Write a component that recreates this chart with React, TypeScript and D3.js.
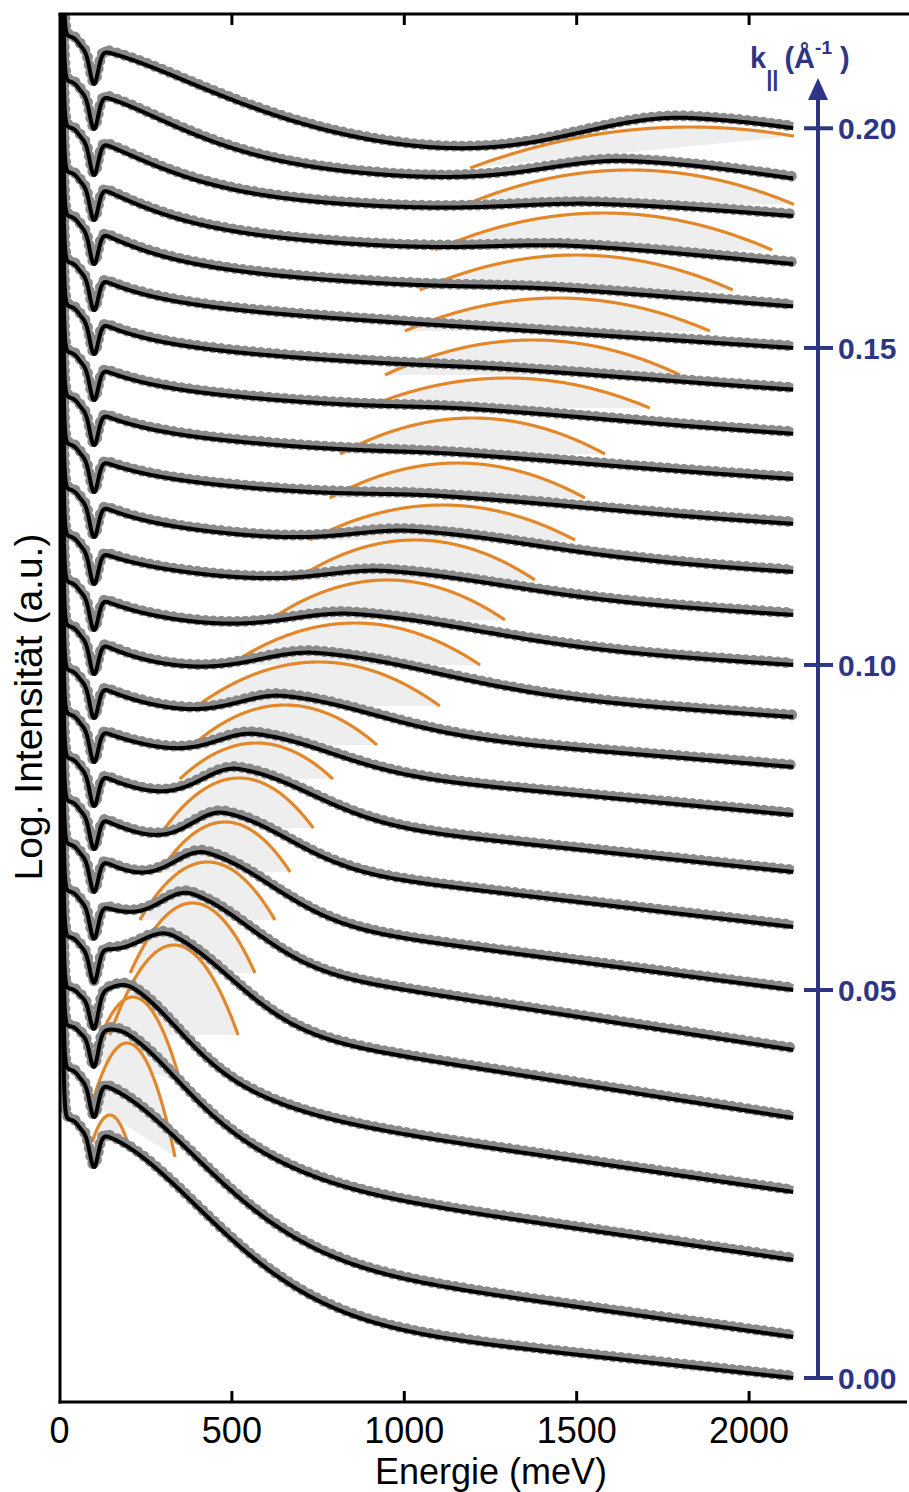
import React from 'react'
import * as d3 from 'd3'

const W = 909
const H = 1492

// spectra from k|| = 0 (bottom) to k|| = 0.20 (top)
const kValues = [0, 0.0083, 0.0167, 0.025, 0.0333, 0.0417, 0.05, 0.0583, 0.0667, 0.075, 0.0833, 0.0917, 0.1,
  0.107, 0.114, 0.121, 0.129, 0.136, 0.143, 0.15, 0.16, 0.17, 0.18, 0.19, 0.2]
// background (log intensity, a.u.) at 100 meV and at the end of the spectrum
const bgStart = [269, 319, 361, 399, 451, 497, 544, 587, 630, 674, 718, 762, 806, 852, 899, 944, 991, 1036, 1082, 1126, 1172, 1216, 1261, 1307, 1352]
const bgEnd = [24, 65, 142, 210, 284, 352, 412, 475, 530, 587, 635, 685, 737, 787, 830, 878, 923, 968, 1012, 1054, 1094, 1134, 1180, 1207, 1227]
// linear part of the background (a.u. per eV), width (meV) and shape of its fast decay
const bgSlope = [37, 48, 50, 50, 54, 53, 45, 40, 36, 32, 28, 24, 22, 22, 22, 22, 22, 22, 22, 22, 20, 18, 12, 15, 15]
const bgWidth = [460, 440, 410, 370, 330, 290, 250, 220, 200, 190, 180, 170, 170, 170, 170, 170, 170, 170, 170, 180, 220, 250, 300, 370, 550]
const bgShape = [1.8, 1.8, 1.7, 1.6, 1.5, 1.4, 1.2, 1, 1, 1, 1, 1, 1, 1, 1, 1, 1, 1, 1, 1, 1.1, 1.2, 1.3, 1.5, 1.5]
// plasmon: energy (meV), half width at the cut (meV), peak (a.u.), drop at the cut (a.u.)
const plasmonE = [null, 146, 196, 213, 332, 386, 429, 480, 521, 571, 654, 751, 857, 951, 1031, 1111, 1154, 1198, 1299, 1372, 1444, 1499, 1578, 1655, 1829]
const plasmonW = [null, 52, 139, 136, 186, 181, 196, 189, 215, 222, 267, 352, 363, 341, 348, 384, 370, 384, 413, 428, 442, 454, 489, 479, 638]
const plasmonPeak = [null, 287, 359, 405, 457, 499, 540, 580, 624, 659, 697, 740, 779, 822, 862, 897, 939, 984, 1024, 1062, 1104, 1147, 1189, 1232, 1275]
const plasmonDrop = [null, 28, 114, 83, 90, 70, 58, 50, 50, 36, 40, 44, 42, 40, 40, 35, 35, 36, 30, 35, 33, 35, 37, 35, 41]

const energyTicks = [0, 500, 1000, 1500, 2000]
const kTicks = [0, 0.05, 0.1, 0.15, 0.2]

const E_END = 2130
const E_MIN_FIT = 95
const GAP = 9

const x = d3.scaleLinear().domain([0, 2458]).range([59.5, 907])
const y = d3.scaleLinear().domain([0, 1388]).range([1402, 14])

const NAVY = '#2e3585'
const ORANGE = '#e3882a'
const DATA = '#8a8a8a'

function background(i: number, e: number) {
  const ee = Math.max(e, 100)
  const lin = (bgSlope[i] * (E_END - ee)) / 1000
  const fast = bgStart[i] - bgEnd[i] - (bgSlope[i] * (E_END - 100)) / 1000
  return bgEnd[i] + lin + fast * Math.exp(-Math.pow((ee - 100) / bgWidth[i], bgShape[i]))
}

function plasmon(i: number, e: number) {
  const d = (e - plasmonE[i]!) / plasmonW[i]!
  return plasmonPeak[i]! - plasmonDrop[i]! * d * d
}

function fit(i: number, e: number) {
  let v = background(i, e)
  if (plasmonE[i] != null) {
    const ep = plasmonE[i]!
    const amp = Math.max(0, plasmonPeak[i]! + GAP - background(i, ep))
    const s = (e < ep ? 0.5 : 1.0) * plasmonW[i]!
    v += amp * Math.exp(-((e - ep) ** 2) / (2 * s * s))
  }
  // elastic peak, low energy shoulder and the dip at 100 meV
  v += 3000 * Math.exp(-e / 3)
  v += 14 / (1 + Math.exp((e - 55) / 8))
  v -= 34 * Math.exp(-((e - 100) ** 2) / (2 * 12 * 12))
  return v
}

const energies = d3.range(0, 60, 0.25).concat(d3.range(60, 300, 1), d3.range(300, E_END + 1, 4))

const line = d3.line<[number, number]>().x(d => x(d[0])).y(d => y(d[1]))

export default function App() {
  const fits = kValues.map((_, i) => energies.map(e => [e, fit(i, e)] as [number, number]))
  const arcs = kValues.map((_, i) => {
    if (plasmonE[i] == null) return null
    const e0 = Math.max(E_MIN_FIT, plasmonE[i]! - plasmonW[i]!)
    const e1 = Math.min(E_END, plasmonE[i]! + plasmonW[i]!)
    return d3.range(e0, e1, 2).concat([e1]).map(e => [e, plasmon(i, e)] as [number, number])
  })
  const endY = kValues.map((_, i) => y(fit(i, E_END)))
  const kScale = d3.scaleLinear().domain(kValues).range(endY)
  const axisX = 818
  const tipY = 78

  return (
    <svg width={W} height={H} style={{ position: 'absolute', left: 0, top: 0, background: '#fff' }}
      fontFamily="'Liberation Sans', Arial, Helvetica, sans-serif">
      <defs>
        <clipPath id="plot">
          <rect x={61} y={15} width={846} height={1386} />
        </clipPath>
      </defs>
      <g clipPath="url(#plot)">
        {arcs.map((a, i) => a && (
          <path key={'f' + i} d={line(a)! + 'Z'} fill="#eeeeee" stroke="none" />
        ))}
        {arcs.map((a, i) => a && (
          <path key={'o' + i} d={line(a)!} fill="none" stroke={ORANGE} strokeWidth={3.2} />
        ))}
        {fits.map((f, i) => (
          <g key={'d' + i} transform="translate(0,-2)">
            <path d={line(f)!} fill="none" stroke={DATA} strokeWidth={8} strokeLinejoin="round" />
            <path d={line(f)!} fill="none" stroke={DATA} strokeWidth={11} strokeDasharray="0 8" strokeLinecap="round" />
          </g>
        ))}
        {fits.map((f, i) => (
          <path key={'b' + i} d={line(f)!} fill="none" stroke="#000" strokeWidth={4} strokeLinejoin="round" />
        ))}
      </g>

      {/* frame */}
      <g stroke="#000" strokeWidth={3} fill="none">
        <line x1={60} x2={60} y1={13.5} y2={1403.5} />
        <line x1={58.5} x2={909} y1={14} y2={14} />
        <line x1={58.5} x2={907} y1={1402} y2={1402} />
        {energyTicks.slice(1).map(t => (
          <g key={t}>
            <line x1={x(t)} x2={x(t)} y1={1402} y2={1391} />
            <line x1={x(t)} x2={x(t)} y1={14} y2={25} />
          </g>
        ))}
      </g>
      {energyTicks.map(t => (
        <text key={t} x={x(t)} y={1443} textAnchor="middle" fontSize={36}>{t}</text>
      ))}
      <text x={491} y={1484} textAnchor="middle" fontSize={36}>Energie (meV)</text>
      <text transform="translate(42,707) rotate(-90)" textAnchor="middle" fontSize={39}>Log. Intensität (a.u.)</text>

      {/* k|| axis */}
      <g fill={NAVY} stroke={NAVY}>
        <line x1={axisX} x2={axisX} y1={kScale(0)} y2={tipY + 16} strokeWidth={4} />
        <path d={`M${axisX},${tipY} L${axisX - 10},${tipY + 22} L${axisX + 10},${tipY + 22} Z`} stroke="none" />
        {kTicks.map(t => (
          <line key={t} x1={axisX - 14} x2={axisX + 15} y1={kScale(t)} y2={kScale(t)} strokeWidth={4} />
        ))}
      </g>
      {kTicks.map(t => (
        <text key={t} x={838} y={kScale(t)} dy="0.36em" fill={NAVY} fontWeight="bold" fontSize={30}>{t.toFixed(2)}</text>
      ))}
      <text x={750} y={68} fill={NAVY} fontWeight="bold" fontSize={29}>
        k
        <tspan fontSize={22} dy={18}>||</tspan>
        <tspan dy={-18} dx={6}>(Å</tspan>
        <tspan fontSize={19} dy={-14}>-1</tspan>
        <tspan dy={14} dx={8}>)</tspan>
      </text>
    </svg>
  )
}
